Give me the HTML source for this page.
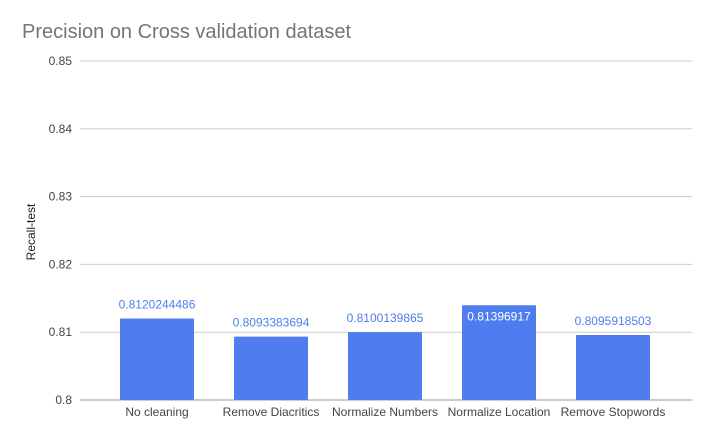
<!DOCTYPE html>
<html><head><meta charset="utf-8"><style>
body{margin:0;background:#fff;font-family:"Liberation Sans",Arial,sans-serif}
svg text{font-family:"Liberation Sans",Arial,sans-serif}
</style></head><body>
<svg id="chart" width="711" height="438">
<text x="22" y="38" font-size="20" fill="#757575">Precision on Cross validation dataset</text>
<text transform="translate(35,232) rotate(-90)" text-anchor="middle" font-size="12" fill="#222">Recall-test</text>
<g id="grid"></g><g id="bars"></g>
</svg>
<script>
const categories=["No cleaning","Remove Diacritics","Normalize Numbers","Normalize Location","Remove Stopwords"];
const values=[0.8120244486,0.8093383694,0.8100139865,0.81396917,0.8095918503];
const labels=["0.8120244486","0.8093383694","0.8100139865","0.81396917","0.8095918503"];
const ticks=[0.8,0.81,0.82,0.83,0.84,0.85];
const tickLabels=["0.8","0.81","0.82","0.83","0.84","0.85"];
const NS="http://www.w3.org/2000/svg";
const y0=400,y1=61,vmin=0.8,vmax=0.85,xL=100,xR=670;
const y=v=>y0-(v-vmin)/(vmax-vmin)*(y0-y1);
const band=(xR-xL)/categories.length;
const xc=i=>xL+band*(i+0.5);
function mk(t,a,p){const e=document.createElementNS(NS,t);for(const k in a)e.setAttribute(k,a[k]);p.appendChild(e);return e;}
const g=document.getElementById('grid'),b=document.getElementById('bars');
ticks.forEach((t,i)=>{
 const l=mk('line',{x1:80,x2:692,y1:y(t),y2:y(t),stroke:i==0?'#999':'#ccc','stroke-width':1},g);
 
 
 const tx=mk('text',{x:72,y:y(t)+4,'text-anchor':'end','font-size':12,fill:'#444'},g);tx.textContent=tickLabels[i];
 
 
});
const maxV=Math.max(...values);
categories.forEach((c,i)=>{
 const w=74,top=y(values[i]);
 const r=mk('rect',{x:xc(i)-w/2,y:top,width:w,height:y0-top,fill:'#4f7df0',rx:1},b);
 
 
 const inside=values[i]===maxV;
 const lt=mk('text',{x:xc(i),y:inside?top+15:top-10,'text-anchor':'middle','font-size':12,fill:inside?'#fff':'#4f7df0'},b);lt.textContent=labels[i];
 
 
 const ct=mk('text',{x:xc(i),y:416,'text-anchor':'middle','font-size':12,fill:'#444'},b);ct.textContent=c;
 
 
});
</script>
</body></html>
